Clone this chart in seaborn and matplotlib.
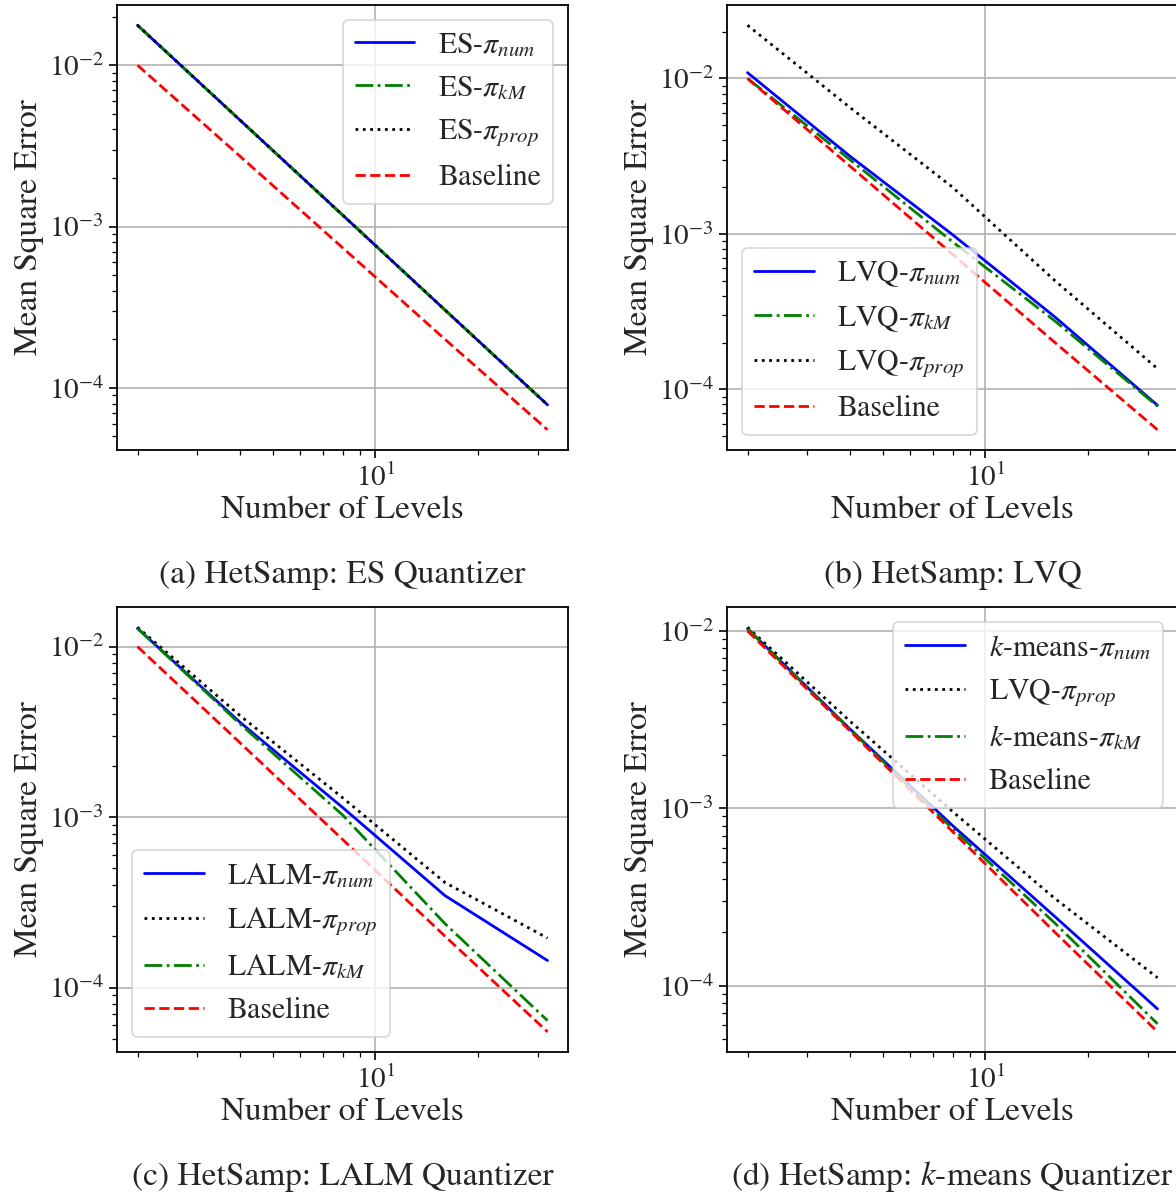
import numpy as np
import pandas as pd
import matplotlib
matplotlib.use("Agg")
import matplotlib.pyplot as plt
import matplotlib.ticker as mticker
import seaborn as sns

# ---------------- data ----------------
levels = [2, 4, 8, 16, 32]

baseline = [1.0e-2, 2.73e-3, 7.4e-4, 2.0e-4, 5.5e-5]

# (a) ES quantizer
es_num = [1.77e-2, 4.57e-3, 1.18e-3, 3.04e-4, 7.85e-5]
es_km = [1.77e-2, 4.57e-3, 1.18e-3, 3.04e-4, 7.85e-5]
es_prop = [1.77e-2, 4.57e-3, 1.18e-3, 3.04e-4, 7.85e-5]

# (b) LVQ
lvq_num = [1.09e-2, 3.16e-3, 9.9e-4, 2.92e-4, 7.9e-5]
lvq_km = [1.0e-2, 3.0e-3, 8.9e-4, 2.75e-4, 7.8e-5]
lvq_prop = [2.2e-2, 6.5e-3, 2.0e-3, 5.0e-4, 1.36e-4]

# (c) LALM quantizer
lalm_num = [1.28e-2, 3.6e-3, 1.14e-3, 3.46e-4, 1.44e-4]
lalm_prop = [1.3e-2, 3.94e-3, 1.3e-3, 4.13e-4, 1.95e-4]
lalm_km = [1.28e-2, 3.52e-3, 1.03e-3, 2.37e-4, 6.4e-5]

# (d) k-means quantizer
km_num = [1.03e-2, 2.8e-3, 8.0e-4, 2.45e-4, 7.4e-5]
km_lvq_prop = [1.05e-2, 3.1e-3, 9.6e-4, 3.1e-4, 1.11e-4]
km_km = [1.03e-2, 2.78e-3, 7.7e-4, 2.25e-4, 6.1e-5]

captions = ["(a) HetSamp: ES Quantizer", "(b) HetSamp: LVQ",
            "(c) HetSamp: LALM Quantizer", "(d) HetSamp: $k$-means Quantizer"]

# ---------------- style ----------------
sns.set_theme(style="ticks")
plt.rcParams["font.family"] = ["STIXGeneral", "DejaVu Serif"]
plt.rcParams["mathtext.fontset"] = "stix"
plt.rcParams["axes.unicode_minus"] = True

FS_TICK = 21
FS_LAB = 24
FS_LEG = 21.5
FS_CAP = 24
BLUE, GREEN, BLACK, RED = "#0000ff", "#008000", "#000000", "#ff0000"
LW = 2.0

W, H = 1176, 1198
fig = plt.figure(figsize=(W / 100, H / 100), dpi=100)


def px_axes(left, top, right, bottom):
    return fig.add_axes([left / W, 1 - bottom / H, (right - left) / W, (bottom - top) / H])


panels = [
    dict(box=(117, 5, 568, 450),
         series=[(es_num, "ES-$\\pi_{num}$", BLUE, "-"),
                 (es_km, "ES-$\\pi_{kM}$", GREEN, "-."),
                 (es_prop, "ES-$\\pi_{prop}$", BLACK, ":"),
                 (baseline, "Baseline", RED, "--")],
         loc="upper right"),
    dict(box=(727, 5, 1178, 450),
         series=[(lvq_num, "LVQ-$\\pi_{num}$", BLUE, "-"),
                 (lvq_km, "LVQ-$\\pi_{kM}$", GREEN, "-."),
                 (lvq_prop, "LVQ-$\\pi_{prop}$", BLACK, ":"),
                 (baseline, "Baseline", RED, "--")],
         loc="lower left"),
    dict(box=(117, 607, 568, 1052),
         series=[(lalm_num, "LALM-$\\pi_{num}$", BLUE, "-"),
                 (lalm_prop, "LALM-$\\pi_{prop}$", BLACK, ":"),
                 (lalm_km, "LALM-$\\pi_{kM}$", GREEN, "-."),
                 (baseline, "Baseline", RED, "--")],
         loc="lower left"),
    dict(box=(727, 607, 1178, 1052),
         series=[(km_num, "$k$-means-$\\pi_{num}$", BLUE, "-"),
                 (km_lvq_prop, "LVQ-$\\pi_{prop}$", BLACK, ":"),
                 (km_km, "$k$-means-$\\pi_{kM}$", GREEN, "-."),
                 (baseline, "Baseline", RED, "--")],
         loc="upper right"),
]

for p, cap in zip(panels, captions):
    left, top, right, bottom = p["box"]
    ax = px_axes(left, top, right, bottom)
    for vals, lab, col, ls in p["series"]:
        df = pd.DataFrame({"Levels": levels, "MSE": vals})
        sns.lineplot(data=df, x="Levels", y="MSE", ax=ax, color=col,
                     linestyle=ls, linewidth=LW, label=lab)
    ax.set_xscale("log")
    ax.set_yscale("log")
    ax.margins(0.05)
    ax.grid(True, which="major", color="#b0b0b0", linewidth=1.2)
    ax.xaxis.set_minor_formatter(mticker.NullFormatter())
    ax.yaxis.set_minor_formatter(mticker.NullFormatter())
    ax.tick_params(axis="both", which="major", labelsize=FS_TICK, length=6, width=1.2,
                   direction="out", color="black")
    ax.tick_params(axis="both", which="minor", length=3.5, width=0.9, color="black")
    for s in ax.spines.values():
        s.set_color("black")
        s.set_linewidth(1.3)
    ax.set_xlabel("Number of Levels", fontsize=FS_LAB, labelpad=3)
    ax.set_ylabel("Mean Square Error", fontsize=FS_LAB, labelpad=3)
    leg = ax.legend(loc=p["loc"], fontsize=FS_LEG, frameon=True, fancybox=True,
                    framealpha=0.8, edgecolor="#cccccc", handlelength=2.0)
    leg.get_frame().set_linewidth(1.2)
    cx = (left + right) / 2
    cy = bottom + 125
    fig.text(cx / W, 1 - cy / H, cap, ha="center", va="center", fontsize=FS_CAP)

fig.savefig("out.png", dpi=100)
